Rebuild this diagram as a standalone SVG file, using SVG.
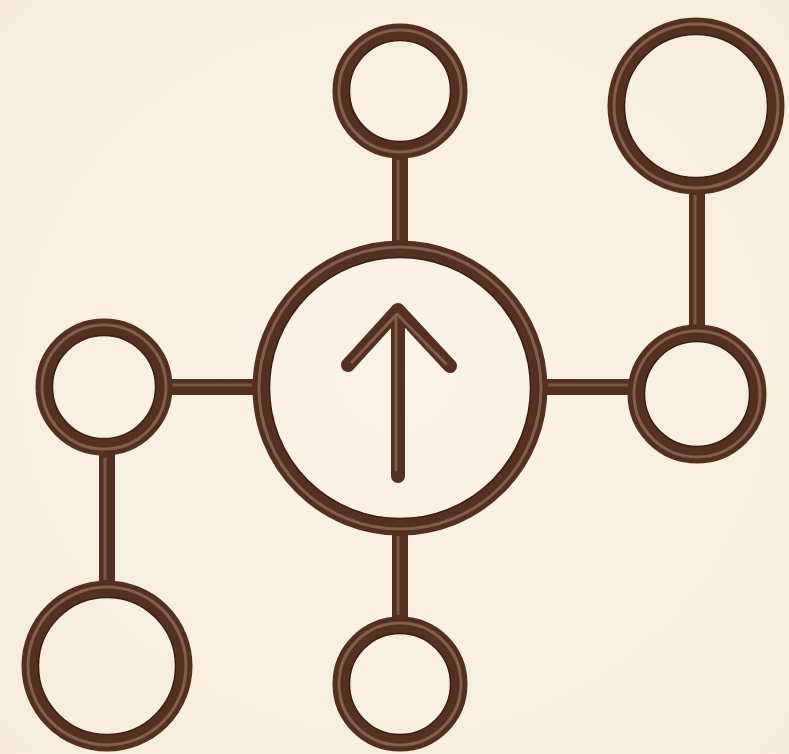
<svg xmlns="http://www.w3.org/2000/svg" width="789" height="754" viewBox="0 0 789 754">
<defs>
<style>
.ring{fill:none;stroke:#533021;stroke-width:17}
.ringhi{fill:none;stroke:#a8866f;stroke-width:3;opacity:0.55}
.ringin{fill:none;stroke:#3a1e13;stroke-width:1.5}
.conn{stroke:#533021;stroke-width:16;stroke-linecap:butt;fill:none}
.connhi{stroke:#a08069;stroke-width:3;opacity:0.5;fill:none}
.arrow{stroke:#533021;stroke-width:14;stroke-linecap:round;stroke-linejoin:round;fill:none}
.arrowhi{stroke:#a58470;stroke-width:3;opacity:0.55;stroke-linecap:round;stroke-linejoin:round;fill:none}
</style>
<radialGradient id="bg" cx="0.5" cy="0.5" r="0.75">
<stop offset="0" stop-color="#fbf3e6"/>
<stop offset="1" stop-color="#f7ecdb"/>
</radialGradient>
</defs>
<rect width="789" height="754" fill="url(#bg)"/>
<g id="connectors">
<line class="conn" x1="400" y1="150" x2="400" y2="250"/>
<line class="conn" x1="697" y1="185" x2="697" y2="335"/>
<line class="conn" x1="540" y1="387" x2="638" y2="387"/>
<line class="conn" x1="163" y1="387" x2="260" y2="387"/>
<line class="conn" x1="107" y1="448" x2="107" y2="590"/>
<line class="conn" x1="400" y1="526" x2="400" y2="625"/>
<line class="connhi" x1="398" y1="160" x2="398" y2="240"/>
<line class="connhi" x1="695" y1="195" x2="695" y2="325"/>
<line class="connhi" x1="548" y1="385" x2="630" y2="385"/>
<line class="connhi" x1="172" y1="385" x2="252" y2="385"/>
<line class="connhi" x1="105" y1="458" x2="105" y2="580"/>
<line class="connhi" x1="398" y1="536" x2="398" y2="615"/>
</g>
<g id="node-center">
<circle class="ring" cx="400" cy="388" r="139"/>
<circle class="ringhi" cx="400" cy="388" r="141"/>
<circle class="ringin" cx="400" cy="388" r="130.5"/>
<path class="arrow" d="M398 476 L398 310 M348 365 L398 310 L450 366"/>
<path class="arrowhi" d="M396 470 L396 318 M352 362 L397 314 L446 364"/>
</g>
<g id="node-top">
<circle class="ring" cx="400" cy="91" r="59"/>
<circle class="ringhi" cx="400" cy="91" r="61"/>
<circle class="ringin" cx="400" cy="91" r="50.5"/>
</g>
<g id="node-top-right">
<circle class="ring" cx="696" cy="106" r="80"/>
<circle class="ringhi" cx="696" cy="106" r="82"/>
<circle class="ringin" cx="696" cy="106" r="71.5"/>
</g>
<g id="node-right">
<circle class="ring" cx="697" cy="394" r="61"/>
<circle class="ringhi" cx="697" cy="394" r="63"/>
<circle class="ringin" cx="697" cy="394" r="52.5"/>
</g>
<g id="node-left">
<circle class="ring" cx="104" cy="387" r="60"/>
<circle class="ringhi" cx="104" cy="387" r="62"/>
<circle class="ringin" cx="104" cy="387" r="51.5"/>
</g>
<g id="node-bottom-left">
<circle class="ring" cx="107" cy="666" r="77"/>
<circle class="ringhi" cx="107" cy="666" r="79"/>
<circle class="ringin" cx="107" cy="666" r="68.5"/>
</g>
<g id="node-bottom">
<circle class="ring" cx="400" cy="684" r="59"/>
<circle class="ringhi" cx="400" cy="684" r="61"/>
<circle class="ringin" cx="400" cy="684" r="50.5"/>
</g>
</svg>
